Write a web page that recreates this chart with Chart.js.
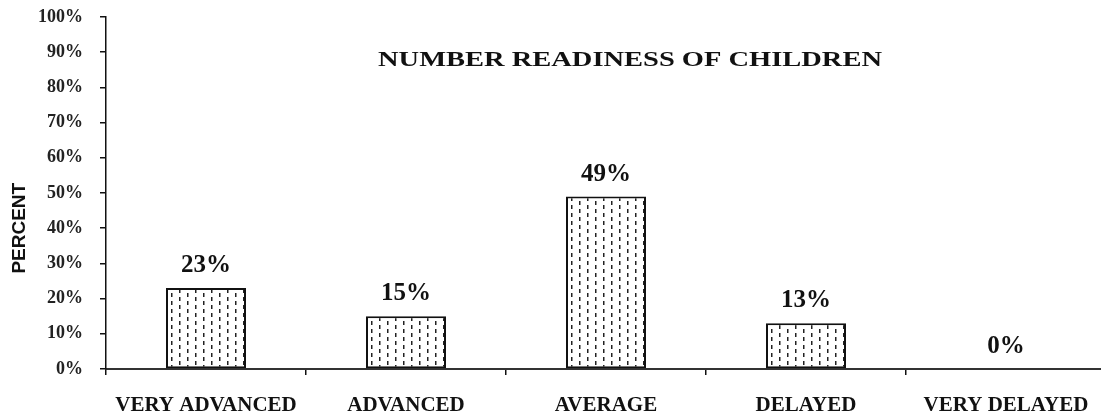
<!DOCTYPE html>
<html>
<head>
<meta charset="utf-8">
<script src="https://cdn.jsdelivr.net/npm/chart.js@4.4.1/dist/chart.umd.min.js"></script>
<style>
  html, body { margin: 0; padding: 0; background: #fff; overflow: hidden; }
  #wrap { width: 1106px; height: 419px; }
</style>
</head>
<body>
<div id="wrap"><canvas id="c" width="1106" height="419"></canvas></div>
<script>
// Chart data
const categories = ['VERY ADVANCED', 'ADVANCED', 'AVERAGE', 'DELAYED', 'VERY DELAYED'];
const percentValues = [23, 15, 49, 13, 0];
const yTickValues = [0, 10, 20, 30, 40, 50, 60, 70, 80, 90, 100];
const chartTitle = 'NUMBER READINESS OF CHILDREN';
const yAxisTitle = 'PERCENT';

// Dotted vertical-dash fill used for the bars
function makeDashPattern(ctx) {
  const tile = document.createElement('canvas');
  tile.width = 16; tile.height = 8;
  const t = tile.getContext('2d');
  t.fillStyle = '#ffffff';
  t.fillRect(0, 0, 16, 8);
  t.fillStyle = '#222';
  t.fillRect(3, 1, 1.5, 4);
  t.fillRect(11, 5, 1.5, 3);
  t.fillRect(11, 0, 1.5, 1);
  return ctx.createPattern(tile, 'repeat');
}

// Value labels above each bar
const barValueLabels = {
  id: 'barValueLabels',
  afterDatasetsDraw(chart) {
    const ctx = chart.ctx;
    const meta = chart.getDatasetMeta(0);
    ctx.save();
    ctx.font = 'bold 25px "Liberation Serif"';
    ctx.fillStyle = '#111';
    ctx.textAlign = 'center';
    ctx.textBaseline = 'alphabetic';
    meta.data.forEach((bar, i) => {
      ctx.fillText(percentValues[i] + '%', bar.x, bar.y - 16);
    });
    ctx.restore();
  }
};

// Wide serif title inside the plot and the rotated axis title
const chartTexts = {
  id: 'chartTexts',
  afterDraw(chart) {
    const ctx = chart.ctx;
    const a = chart.chartArea;
    const w = a.right - a.left;
    const h = a.bottom - a.top;
    ctx.save();
    ctx.font = 'bold 21px "Liberation Serif"';
    ctx.fillStyle = '#111';
    ctx.textBaseline = 'alphabetic';
    ctx.textAlign = 'left';
    const natural = ctx.measureText(chartTitle).width;
    const target = w * 0.504;
    const sx = target / natural;
    const cx = a.left + w * 0.524;
    ctx.translate(cx - target / 2, a.top + h * 0.139);
    ctx.scale(sx, 1);
    ctx.fillText(chartTitle, 0, 0);
    ctx.restore();

    ctx.save();
    ctx.font = 'bold 19px "Liberation Sans"';
    ctx.fillStyle = '#111';
    ctx.textAlign = 'center';
    ctx.textBaseline = 'middle';
    ctx.translate(a.left - 86, a.top + h * 0.60);
    ctx.rotate(-Math.PI / 2);
    ctx.fillText(yAxisTitle, 0, 0);
    ctx.restore();
  }
};

const ctx = document.getElementById('c').getContext('2d');
const dashFill = makeDashPattern(ctx);

new Chart(ctx, {
  type: 'bar',
  data: {
    labels: categories,
    datasets: [{
      data: percentValues,
      backgroundColor: dashFill,
      borderColor: '#111',
      borderWidth: 2,
      borderSkipped: false,
      categoryPercentage: 1.0,
      barPercentage: 0.4
    }]
  },
  options: {
    responsive: false,
    animation: false,
    events: [],
    layout: { padding: { top: 17, right: 0, bottom: 0, left: 0 } },
    plugins: {
      legend: { display: false },
      title: { display: false },
      tooltip: { enabled: false }
    },
    scales: {
      x: {
        offset: true,
        grid: {
          offset: true,
          drawOnChartArea: false,
          drawTicks: true,
          tickLength: 6,
          color: '#111',
          lineWidth: 1.5
        },
        border: { color: '#333', width: 2 },
        ticks: {
          color: '#111',
          font: { family: '"Liberation Serif"', size: 21, weight: 'bold' },
          padding: 18,
          maxRotation: 0,
          autoSkip: false
        },
        afterFit(scale) {
          scale.height = 50;
          scale.paddingLeft = 0;
          scale.paddingRight = 0;
        }
      },
      y: {
        min: 0,
        max: 100,
        afterBuildTicks(scale) { scale.ticks = yTickValues.map(v => ({ value: v })); },
        grid: {
          drawOnChartArea: false,
          drawTicks: true,
          tickLength: 6,
          color: '#111',
          lineWidth: 1.5
        },
        border: { color: '#111', width: 1.5 },
        ticks: {
          color: '#222',
          font: { family: '"Liberation Serif"', size: 18, weight: 'bold' },
          padding: 17,
          callback: v => v + '%'
        },
        afterFit(scale) {
          scale.width = 106;
          scale.paddingTop = 0;
          scale.paddingBottom = 0;
        }
      }
    }
  },
  plugins: [barValueLabels, chartTexts]
});
</script>
</body>
</html>
